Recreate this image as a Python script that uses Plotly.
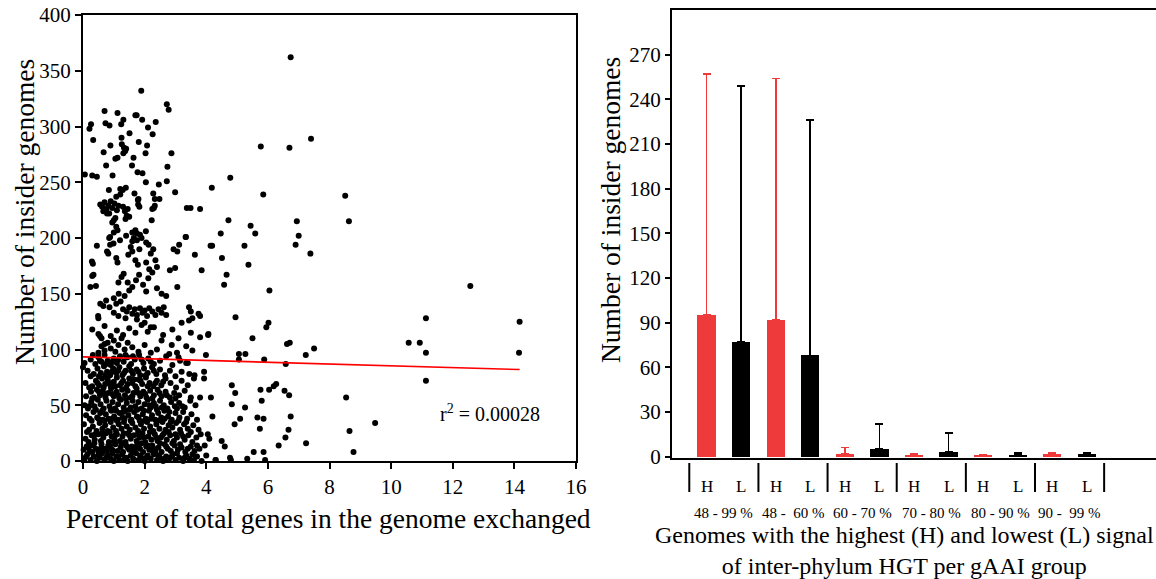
import plotly.graph_objects as go

# ---------------- Left panel data (percent exchanged vs insider genomes) ----------------
dense_points = [
    (0.05,2),(0.15,6),(0.25,1),(0.35,4),(0.45,0),(0.55,3),(0.62,7),(0.7,1),(0.8,5),(0.9,2),(1.0,0),(1.08,4),(1.18,1),(1.27,6),(1.35,2),(1.45,0),(1.55,5),(1.63,2),(1.72,7),(1.8,1),(1.9,3),(2.0,0),(2.1,5),(2.2,2),(2.3,6),(2.4,1),(2.5,3),(2.6,0),(2.7,4),(2.8,2),(2.92,6),(3.0,1),(3.12,3),(3.25,0),(3.35,5),(3.45,2),(3.6,1),(3.7,4),(3.85,0),(4.3,1),(4.8,1),
    (0.02,10),(0.12,13),(0.22,9),(0.3,14),(0.42,11),(0.5,8),(0.6,15),(0.68,11),(0.78,9),(0.88,13),(0.95,10),(1.05,15),(1.12,9),(1.22,12),(1.3,8),(1.4,14),(1.5,10),(1.58,13),(1.68,9),(1.76,15),(1.85,11),(1.95,8),(2.05,13),(2.15,10),(2.25,14),(2.35,9),(2.45,12),(2.55,8),(2.65,15),(2.75,11),(2.85,9),(2.97,14),(3.08,10),(3.2,12),(3.32,8),(3.5,13),(3.62,9),(3.78,11),(3.95,14),
    (0.08,20),(0.18,17),(0.28,23),(0.38,19),(0.5,24),(0.58,18),(0.66,21),(0.75,25),(0.84,17),(0.93,22),(1.02,19),(1.1,24),(1.2,18),(1.28,22),(1.38,17),(1.46,25),(1.55,20),(1.65,23),(1.74,18),(1.83,21),(1.93,25),(2.02,17),(2.12,22),(2.22,19),(2.33,24),(2.42,18),(2.53,21),(2.63,25),(2.72,19),(2.83,23),(2.95,18),(3.05,21),(3.18,25),(3.3,19),(3.42,23),(3.55,17),(3.68,21),(3.82,24),(4.05,24),
    (0.03,33),(0.2,28),(0.32,31),(0.44,27),(0.54,34),(0.63,29),(0.72,32),(0.8,27),(0.9,35),(0.98,30),(1.07,27),(1.16,33),(1.25,29),(1.33,35),(1.42,31),(1.52,28),(1.6,34),(1.7,30),(1.79,27),(1.88,33),(1.98,29),(2.08,35),(2.18,31),(2.28,27),(2.38,33),(2.48,29),(2.58,35),(2.68,28),(2.78,32),(2.9,30),(3.02,34),(3.15,28),(3.28,33),(3.4,29),(3.58,32),(3.75,28),
    (0.1,41),(0.22,38),(0.34,44),(0.46,39),(0.56,43),(0.65,37),(0.74,42),(0.83,38),(0.92,45),(1.01,40),(1.1,36),(1.19,43),(1.28,39),(1.37,45),(1.47,41),(1.57,37),(1.66,44),(1.75,40),(1.84,36),(1.94,42),(2.04,38),(2.14,45),(2.24,41),(2.34,37),(2.44,43),(2.54,39),(2.64,45),(2.76,40),(2.88,37),(3.0,43),(3.13,39),(3.25,44),(3.38,38),(3.52,42),(3.7,37),
    (0.05,50),(0.16,47),(0.27,53),(0.37,49),(0.48,55),(0.57,51),(0.67,47),(0.76,54),(0.86,49),(0.96,53),(1.04,47),(1.14,51),(1.23,55),(1.32,48),(1.42,52),(1.51,46),(1.61,54),(1.7,49),(1.8,53),(1.9,47),(2.0,51),(2.1,55),(2.2,48),(2.3,52),(2.4,46),(2.5,54),(2.62,50),(2.74,47),(2.86,53),(2.98,49),(3.12,52),(3.3,48),(3.48,54),(3.65,50),
    (0.1,58),(0.26,62),(0.36,57),(0.45,64),(0.55,59),(0.64,63),(0.73,57),(0.82,61),(0.91,65),(1.0,58),(1.09,62),(1.18,56),(1.27,64),(1.36,59),(1.45,63),(1.55,57),(1.64,61),(1.74,65),(1.86,58),(1.96,62),(2.06,57),(2.18,63),(2.3,59),(2.42,64),(2.55,58),(2.68,62),(2.82,57),(2.96,61),(3.12,59),(3.3,63),(3.5,57),
    (0.08,70),(0.3,67),(0.42,72),(0.52,68),(0.62,74),(0.72,69),(0.8,73),(0.9,67),(1.0,71),(1.1,75),(1.2,68),(1.3,72),(1.4,66),(1.5,74),(1.6,70),(1.7,67),(1.8,73),(1.92,69),(2.04,75),(2.16,70),(2.28,67),(2.4,72),(2.54,68),(2.68,74),(2.84,70),(3.02,66),(3.2,72),(3.4,68),(3.6,74),
    (0.0,84),(0.15,81),(0.35,78),(0.47,83),(0.58,79),(0.68,85),(0.78,80),(0.88,77),(0.98,83),(1.08,79),(1.18,84),(1.28,77),(1.38,81),(1.5,85),(1.62,78),(1.74,82),(1.86,77),(1.98,83),(2.1,79),(2.24,84),(2.38,78),(2.5,82),(2.66,77),(2.82,81),(3.0,76),(3.2,80),(3.45,78),(3.62,77),
    (0.05,88),(0.25,91),(0.4,87),(0.5,93),(0.6,89),(0.7,95),(0.8,90),(0.9,86),(1.0,92),(1.1,88),(1.2,94),(1.32,89),(1.44,93),(1.56,87),(1.68,91),(1.82,95),(1.96,88),(2.12,92),(2.3,87),(2.5,90),(2.7,94),(2.9,86),(3.15,90),(3.4,88),
    (0.5,97),(0.6,103),(0.7,99),(0.8,106),(0.9,101),(1.0,108),(1.05,98),(1.15,104),(1.25,110),(1.35,100),(1.45,106),(1.6,102),(1.8,98),(2.0,104),(2.2,97),(2.4,100),(2.55,108),(2.8,96),(3.1,110),(3.35,103),(3.55,99),
    (0.3,118),(0.5,114),(0.7,121),(0.9,112),(1.1,117),(1.3,113),(1.5,119),(1.7,115),(1.9,122),(2.1,116),(2.3,120),(2.6,113),(2.9,118),(3.2,124),(3.5,115),
]

extra_dense_points = [
    (0.1,4),(0.3,8),(0.5,5),(0.75,3),(0.95,7),(1.15,4),(1.4,3),(1.6,8),(1.85,5),(2.05,3),(2.25,9),(2.45,5),(2.65,2),(2.88,4),(3.05,7),(3.3,3),(3.55,6),
    (0.17,12),(0.37,16),(0.57,11),(0.82,14),(1.0,17),(1.25,15),(1.45,12),(1.7,12),(1.9,16),(2.1,14),(2.3,11),(2.5,16),(2.7,13),(2.9,16),(3.15,15),(3.4,11),(3.7,14),
    (0.13,26),(0.4,24),(0.62,25),(0.87,26),(1.05,23),(1.32,25),(1.5,23),(1.78,24),(1.98,21),(2.17,26),(2.38,21),(2.58,23),(2.78,26),(3.0,24),(3.25,22),(3.5,26),
    (0.28,36),(0.5,38),(0.7,36),(0.95,38),(1.13,37),(1.35,38),(1.55,36),(1.8,39),(2.0,36),(2.2,38),(2.42,36),(2.65,38),(2.85,35),(3.1,36),(3.35,35),
    (0.2,49),(0.42,46),(0.62,45),(0.9,46),(1.08,45),(1.3,44),(1.55,48),(1.76,46),(1.98,45),(2.15,50),(2.36,49),(2.56,48),(2.8,44),(3.05,47),(3.22,49),
    (0.3,56),(0.52,62),(0.7,60),(0.95,60),(1.15,59),(1.4,56),(1.6,58),(1.8,61),(2.02,60),(2.25,56),(2.48,61),(2.72,59),(3.0,56),
    (0.2,66),(0.47,70),(0.67,66),(0.86,70),(1.05,67),(1.25,70),(1.45,69),(1.65,73),(1.87,72),(2.1,67),(2.35,70),(2.6,71),
    (0.25,76),(0.52,76),(0.74,77),(0.94,80),(1.14,81),(1.33,79),(1.56,81),(1.8,80),(2.04,77),(2.3,81),
    (0.32,95),(0.55,90),(0.75,87),(0.96,89),(1.15,91),(1.38,95),(1.62,94),(1.9,91),(2.2,89),
]

mid_points = [
    (1.3,136),(1.42,134),(1.5,138),(1.6,132),(1.68,136),(1.75,131),(1.85,137),(1.93,133),(2.0,135),(2.08,130),(2.15,137),(2.25,134),(2.35,131),(2.45,136),(2.55,133),(2.62,138),(2.7,131),
    (0.49,130),(0.5,128),(0.56,141),(0.66,139),(0.75,144),(0.86,138),(1.0,146),(1.08,141),(1.16,150),(1.22,143),(1.35,148),(1.38,128),(1.0,133),(1.15,130),
    (0.34,167),(0.42,157),(0.24,156),(0.3,166),(1.15,160),(1.25,165),(1.32,168),(1.45,160),(1.5,153),(1.6,156),(1.72,162),(1.82,167),(1.95,158),(2.05,152),(2.12,164),(2.25,169),(2.4,155),(2.55,150),(2.7,148),(2.2,120),(2.0,124),(1.75,127),
    (0.45,193),(0.29,179),(0.32,177),(0.88,194),(0.99,195),(0.78,188),(0.82,186),(1.08,182),(1.12,178),(1.47,185),(1.55,192),(1.6,188),(1.7,180),(1.78,176),(1.83,190),(2.13,194),(2.2,186),(2.28,190),(2.35,180),(2.4,174),(2.05,178),(2.15,172),
    (2.94,190),(3.12,194),(3.06,188),(3.63,185),(3.85,171),(2.82,171),(2.99,173),(3.06,156),(3.33,201),(4.14,193),(3.44,126),(3.5,134),(3.44,138),(3.55,128),(3.75,132),(3.8,130),(3.8,111),(4.06,113),(2.88,104),(3.1,93),(3.05,97),(3.35,88),
    (0.85,200),(1.0,205),(1.2,198),(1.4,202),(1.6,197),(1.75,204),(1.9,200),(2.05,196),(0.6,110),(0.7,105),(0.55,112),
]

upper_points = [
    (3.80,226),(3.37,227),(3.49,227),(3.34,201),(1.89,332),(2.72,320),(2.78,315),(0.70,314),(1.12,312),(0.73,303),(0.86,301),(1.24,302),(1.31,306),(0.26,302),(0.21,298),(1.70,310),(1.74,310),(1.92,306),(2.36,304),(2.11,299),(2.26,293),(1.51,294),(0.33,288),(1.25,290),(1.26,284),(1.33,281),(1.37,278),(1.31,276),(1.40,280),(0.89,283),(1.81,286),(2.08,283),(0.67,277),(2.03,276),(2.87,276),(1.64,272),(1.05,271),(1.12,272),(0.75,265),(1.59,265),(2.74,264),(0.06,257),(0.30,256),(0.45,255),(0.96,256),(1.77,259),(1.93,258),(2.72,251),(2.04,250),(1.39,245),(1.29,243),(0.84,243),(2.99,241),(2.46,248),(2.28,240),(2.33,235),(1.67,240),(1.78,234),(1.08,237),(1.21,239),(1.21,244),
    (0.56,230),(0.62,228),(0.7,232),(0.76,226),(0.82,229),(0.9,233),(0.95,227),(1.02,231),(1.1,225),(1.15,229),(0.66,224),(0.85,222),
    (1.3,228),(1.36,224),(1.42,220),(1.45,226),(1.5,219),(1.38,217),
    (1.79,230),(1.83,228),(1.8,235),(2.3,227),(2.33,229),(2.25,226),(2.48,235),(1.0,216),(0.95,214),(1.05,218),(0.78,222),(1.6,205),(1.65,200),(1.7,207),(1.75,198),(1.85,203),(1.08,210),(1.12,207),(2.23,216),(2.04,206),(0.88,201),
]

sparse_points = [
    (6.74,362),(5.77,282),(6.70,281),(7.40,289),(4.78,254),(4.18,245),(5.85,239),(8.51,238),(4.72,216),(5.44,211),(6.94,215),(8.63,215),(4.47,204),(5.59,204),(7.0,202),(4.19,193),(5.24,193),(6.90,194),(7.38,186),(4.51,182),(5.37,176),(4.66,167),(4.58,158),(6.05,153),(12.57,157),(4.95,129),(6.02,124),(5.95,120),(11.13,128),(14.17,125),(4.07,114),(5.50,110),(6.62,105),(6.71,106),(7.50,101),(7.23,95),(10.57,106),(10.93,106),(11.13,97),(14.15,97),(11.13,72),(5.06,96),(5.06,91),(5.27,96),(5.88,91),(6.58,87),(3.99,95),(3.93,80),(3.93,74),(4.83,68),(4.94,61),(4.83,51),(6.04,64),(6.19,67),(6.27,69),(5.76,64),(5.80,54),(6.54,63),(6.69,59),(5.26,48),(4.15,57),(3.80,57),(8.54,57),(9.48,34),(8.65,27),(8.78,8),(6.74,40),(6.67,28),(6.57,21),(7.24,16),(6.35,14),(5.66,39),(5.86,38),(5.74,29),(5.10,38),(4.92,33),(5.54,8),(5.86,8),(5.91,1),(5.33,2),(4.77,3),(4.31,1),(4.0,5),(4.1,20),(4.2,40),(4.6,13),(4.5,18),
]

fit_x = [0.0, 14.17]
fit_y = [93.4, 82.0]
r2_text = "r<sup>2</sup> = 0.00028"

# ---------------- Right panel data ----------------
gaai_groups = ["48 - 99 %", "48 -\u00a0 60 %", "60 - 70 %", "70 - 80 %", "80 - 90 %", "90 -\u00a0 99 %"]
high_values = [95, 92, 2, 1, 0.8, 1.8]
high_err_top = [257, 254, 6, 2, 1.2, 2.2]
low_values = [77, 68, 5, 3, 1.2, 1.8]
low_err_top = [249, 226, 22, 16, 2.5, 2.8]

all_points = dense_points + extra_dense_points + mid_points + upper_points + sparse_points
scatter_x = [p[0] for p in all_points]
scatter_y = [p[1] for p in all_points]

W, H = 1156, 579
def px(x):
    return x / W
def py(y):
    return (H - y) / H

FONT = "Liberation Serif"

fig = go.Figure()

fig.add_trace(go.Scatter(
    x=scatter_x, y=scatter_y, mode="markers",
    marker=dict(color="black", size=6),
    cliponaxis=False, xaxis="x", yaxis="y", showlegend=False))
fig.add_trace(go.Scatter(
    x=fit_x, y=fit_y, mode="lines",
    line=dict(color="#ff0000", width=1.6),
    xaxis="x", yaxis="y", showlegend=False))

h_pos = [2 * i for i in range(len(gaai_groups))]
l_pos = [2 * i + 1 for i in range(len(gaai_groups))]

fig.add_trace(go.Bar(
    x=h_pos, y=high_values, width=0.53,
    marker=dict(color="#ee3a3a", line=dict(width=0)),
    error_y=dict(type="data", symmetric=False,
                 array=[t - v for t, v in zip(high_err_top, high_values)],
                 arrayminus=[0] * len(high_values),
                 color="#ee3a3a", thickness=1.6, width=4),
    xaxis="x2", yaxis="y2", showlegend=False))
fig.add_trace(go.Bar(
    x=l_pos, y=low_values, width=0.53,
    marker=dict(color="black", line=dict(width=0)),
    error_y=dict(type="data", symmetric=False,
                 array=[t - v for t, v in zip(low_err_top, low_values)],
                 arrayminus=[0] * len(low_values),
                 color="black", thickness=1.6, width=4),
    xaxis="x2", yaxis="y2", showlegend=False))

tickfont = dict(family=FONT, size=21, color="black")

fig.update_layout(
    width=W, height=H,
    margin=dict(l=0, r=0, t=0, b=0, pad=0, autoexpand=False),
    paper_bgcolor="white", plot_bgcolor="white",
    bargap=0,
    xaxis=dict(domain=[px(83), px(576)], range=[0, 16], tickvals=list(range(0, 17, 2)),
               showline=True, linecolor="black", linewidth=2, mirror=True,
               ticks="outside", ticklen=6, tickwidth=1.5, tickcolor="black",
               showgrid=False, zeroline=False, tickfont=tickfont, anchor="y",
               automargin=False),
    yaxis=dict(domain=[py(461), py(15)], range=[0, 400], tickvals=list(range(0, 401, 50)),
               showline=True, linecolor="black", linewidth=2, mirror=True,
               ticks="outside", ticklen=6, tickwidth=1.5, tickcolor="black",
               showgrid=False, zeroline=False, tickfont=tickfont, anchor="x",
               automargin=False),
    xaxis2=dict(domain=[px(672), 1.0], range=[-1, 13],
                showline=True, linecolor="black", linewidth=2, mirror=True,
                showticklabels=False, ticks="",
                showgrid=False, zeroline=False, anchor="y2", automargin=False),
    yaxis2=dict(domain=[py(458), py(10)], range=[-1, 300], tickvals=list(range(0, 271, 30)),
                showline=True, linecolor="black", linewidth=2,
                ticks="outside", ticklen=5, tickwidth=1.5, tickcolor="black",
                showgrid=False, zeroline=False, tickfont=tickfont, anchor="x2",
                automargin=False),
)

def ann(text, x, y, xref="paper", yref="paper", size=20, angle=0):
    return dict(text=text, x=x, y=y, xref=xref, yref=yref, textangle=angle,
                xanchor="center", yanchor="middle", showarrow=False,
                font=dict(family=FONT, size=size, color="black"))

annotations = [
    ann("Number of insider genomes", px(24), py(212), size=27.5, angle=-90),
    ann("Percent of total genes in the genome exchanged", px(328), py(518), size=27.5),
    ann(r2_text, 13.2, 43, xref="x", yref="y", size=20),
    ann("Number of insider genomes", px(611), py(210), size=27.5, angle=-90),
    ann("Genomes with the highest (H) and lowest (L) signal<br>of inter-phylum HGT per gAAI group",
        px(904), py(550), size=24),
]
for i, g in enumerate(gaai_groups):
    annotations.append(ann("H", h_pos[i], py(486), xref="x2", size=17))
    annotations.append(ann("L", l_pos[i], py(486), xref="x2", size=17))
    annotations.append(ann(g, h_pos[i] + 0.5, py(513), xref="x2", size=15))
fig.update_layout(annotations=annotations)

shapes = []
for k in range(len(gaai_groups) + 1):
    shapes.append(dict(type="line", xref="x2", yref="paper",
                       x0=2 * k - 0.5, x1=2 * k - 0.5, y0=py(492), y1=py(463),
                       line=dict(color="black", width=2)))
fig.update_layout(shapes=shapes)

fig.write_html("out.html",
               config={"displayModeBar": False},
               post_script="document.body.style.margin='0';document.body.style.overflow='hidden';")
